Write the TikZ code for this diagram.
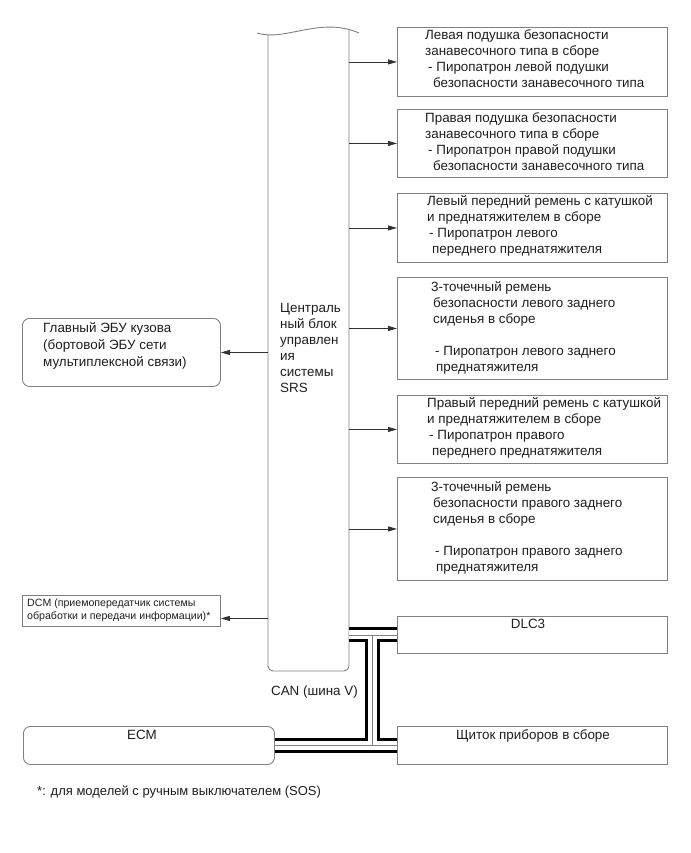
\documentclass[tikz,border=0pt]{standalone}
\usepackage{fontspec}
\setmainfont{Liberation Sans}
\usetikzlibrary{arrows.meta,calc}

\definecolor{boxgray}{RGB}{128,128,128}
\definecolor{wire}{RGB}{50,50,50}
\definecolor{ink}{RGB}{30,30,30}

\tikzset{
	unit/.style={draw=boxgray, line width=0.9pt, anchor=north west, minimum width=270pt, inner sep=0pt},
	ecu/.style={unit, rounded corners=7pt},
	txt/.style={anchor=north west, align=left, inner sep=0pt, text=ink, font=\fontsize{13.4}{16}\selectfont},
	small/.style={txt, font=\fontsize{10.6}{12.5}\selectfont},
	feed/.style={draw=wire, line width=0.8pt, -{Triangle[length=9pt,width=5pt]}},
}

\begin{document}
\begin{tikzpicture}[x=1pt,y=-1pt]
	\useasboundingbox (0,0) rectangle (690,853);

	% central SRS block
	\coordinate (srsL) at (268,0);
	\coordinate (srsR) at (349,0);
	\coordinate (tee) at (372,0);
	\draw[boxgray, line width=0.9pt] (257,33) .. controls (285,42) and (320,16) .. (359,33);
	\draw[boxgray, line width=0.9pt, rounded corners=5pt] (268,35) -- (268,671) -- (349,671) -- (349,29.7);
	\node[txt] (srs) at (280,303) {Централь\\ный блок\\управлен\\ия\\системы\\SRS};

	% squibs
	\node[unit, minimum height=69pt] (curtL) at (397,27) {};
	\node[unit, minimum height=68pt] (curtR) at (397,109) {};
	\node[unit, minimum height=69pt] (beltFL) at (397,193) {};
	\node[unit, minimum height=102pt] (beltRL) at (397,277) {};
	\node[unit, minimum height=68pt] (beltFR) at (397,395) {};
	\node[unit, minimum height=103pt] (beltRR) at (397,477) {};

	\node[txt] (curtLt) at ($(curtL.north west)+(28,2)$) {Левая подушка безопасности\\занавесочного типа в сборе\\\hspace*{3pt}- Пиропатрон левой подушки\\\hspace*{8pt}безопасности занавесочного типа};
	\node[txt] (curtRt) at ($(curtR.north west)+(28,3)$) {Правая подушка безопасности\\занавесочного типа в сборе\\\hspace*{3pt}- Пиропатрон правой подушки\\\hspace*{8pt}безопасности занавесочного типа};
	\node[txt] (beltFLt) at ($(beltFL.north west)+(30,2)$) {Левый передний ремень с катушкой\\и преднатяжителем в сборе\\\hspace*{2pt}- Пиропатрон левого\\\hspace*{5pt}переднего преднатяжителя};
	\node[txt] (beltRLt) at ($(beltRL.north west)+(34,4)$) {3-точечный ремень\\\hspace*{2pt}безопасности левого заднего\\\hspace*{2pt}сиденья в сборе\\[16pt]\hspace*{4pt}- Пиропатрон левого заднего\\\hspace*{5pt}преднатяжителя};
	\node[txt] (beltFRt) at ($(beltFR.north west)+(30,2)$) {Правый передний ремень с катушкой\\и преднатяжителем в сборе\\\hspace*{2pt}- Пиропатрон правого\\\hspace*{5pt}переднего преднатяжителя};
	\node[txt] (beltRRt) at ($(beltRR.north west)+(34,4)$) {3-точечный ремень\\\hspace*{2pt}безопасности правого заднего\\\hspace*{2pt}сиденья в сборе\\[16pt]\hspace*{4pt}- Пиропатрон правого заднего\\\hspace*{5pt}преднатяжителя};

	% left side units
	\node[ecu, minimum width=198pt, minimum height=68pt] (body) at (22,318) {};
	\node[txt, font=\fontsize{13.4}{17}\selectfont] (bodyt) at (43,322) {Главный ЭБУ кузова\\(бортовой ЭБУ сети\\мультиплексной связи)};
	\node[unit, minimum width=198pt, minimum height=31pt] (dcm) at (22,595) {};
	\node[small] (dcmt) at (27,599) {DCM (приемопередатчик системы\\обработки и передачи информации)*};
	\coordinate (dcmin) at ($(dcm.east)+(0,7.5)$);

	% CAN units
	\node[unit, minimum height=37pt] (dlc) at (397,616) {};
	\node[unit, minimum height=38pt] (meter) at (397,726) {};
	\node[ecu, minimum width=251pt, minimum height=38pt] (ecm) at (23,726) {};
	\node[txt, anchor=base] (dlct) at (528,628) {DLC3};
	\node[txt, anchor=base] (metert) at (533,739) {Щиток приборов в сборе};
	\node[txt, anchor=base] (ecmt) at (142,739) {ECM};

	% connectors
	\foreach \b in {curtL,curtR,beltFL,beltRL,beltFR,beltRR}
		\draw[feed] (srsR |- \b.west) -- (\b.west);
	\draw[feed] (srsL |- body.east) -- (body.east);
	\draw[feed] (srsL |- dcmin) -- (dcmin);

	% CAN bus
	\foreach \w/\c in {15pt/black,9pt/white,0.8pt/gray}{
		\draw[line width=\w, \c] (srsR |- dlc.west) -- (dlc.west);
		\draw[line width=\w, \c] (tee |- dlc.west) -- (tee |- meter.west);
		\draw[line width=\w, \c] (ecm.east) -- (meter.west);
	}
	\node[txt, anchor=base east] (can) at (358,695) {CAN (шина V)};

	\node[txt, anchor=base west, font=\fontsize{13}{16}\selectfont] (foot) at (37,795) {*: для моделей с ручным выключателем (SOS)};
\end{tikzpicture}
\end{document}
